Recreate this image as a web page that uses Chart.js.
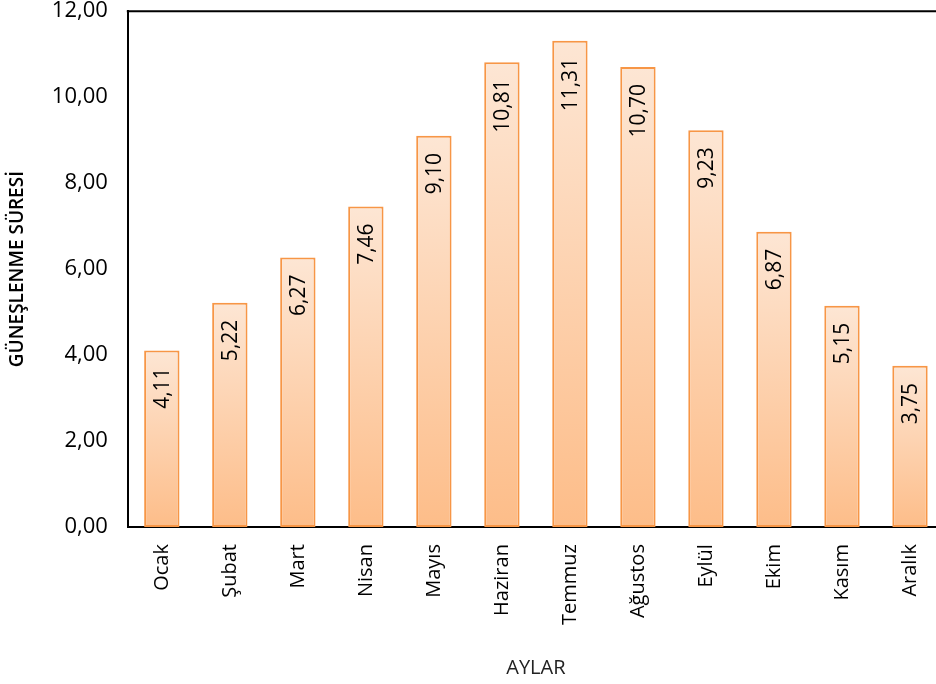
<!DOCTYPE html>
<html>
<head>
<meta charset="utf-8">
<script src="https://cdn.jsdelivr.net/npm/chart.js@4.4.1/dist/chart.umd.min.js"></script>
<style>
    html, body { margin: 0; padding: 0; overflow: hidden; background: #fff; }
    #wrap { position: absolute; left: 0; top: -22px; width: 960px; height: 706px; }
</style>
</head>
<body>
<div id="wrap"><canvas id="sunChart"></canvas></div>
<script>
// Aylık güneşlenme süreleri
const aylar = ['Ocak', 'Şubat', 'Mart', 'Nisan', 'Mayıs', 'Haziran', 'Temmuz', 'Ağustos', 'Eylül', 'Ekim', 'Kasım', 'Aralık'];
const sureler = [4.11, 5.22, 6.27, 7.46, 9.10, 10.81, 11.31, 10.70, 9.23, 6.87, 5.15, 3.75];

const fontAdi = "'Open Sans', 'Noto Sans', sans-serif";

function virgul(v) {
    return v.toFixed(2).replace('.', ',');
}

// Çubuklar için dikey gradyan
function gradyan(context) {
    const chart = context.chart;
    const area = chart.chartArea;
    const yScale = chart.scales.y;
    if (!area || !yScale || context.raw === undefined) return '#fcd2b0';
    const top = yScale.getPixelForValue(context.raw);
    if (!isFinite(top) || !isFinite(area.bottom)) return '#fcd2b0';
    const g = chart.ctx.createLinearGradient(0, top, 0, area.bottom);
    g.addColorStop(0, '#fde6d4');
    g.addColorStop(1, '#fdbd89');
    return g;
}

// Değer etiketleri (dikey, çubuğun üst kısmında)
const etiketPlugin = {
    id: 'etiketler',
    afterDatasetsDraw(chart) {
        const ctx = chart.ctx;
        const meta = chart.getDatasetMeta(0);
        ctx.save();
        ctx.font = '21px ' + fontAdi;
        ctx.fillStyle = '#000';
        ctx.textAlign = 'right';
        ctx.textBaseline = 'middle';
        meta.data.forEach(function(bar, i) {
            ctx.save();
            ctx.translate(bar.x + 1, bar.y + 17);
            ctx.rotate(-Math.PI / 2);
            ctx.fillText(virgul(sureler[i]), 0, 0);
            ctx.restore();
        });
        ctx.restore();
    }
};

// Grafik alanının üst çizgisi
const cercevePlugin = {
    id: 'cerceve',
    afterDraw(chart) {
        const a = chart.chartArea;
        const ctx = chart.ctx;
        ctx.save();
        ctx.strokeStyle = '#000';
        ctx.lineWidth = 2;
        ctx.beginPath();
        ctx.moveTo(a.left - 1, a.top);
        ctx.lineTo(a.right, a.top);
        ctx.stroke();
        ctx.restore();
    }
};

const ctx = document.getElementById('sunChart').getContext('2d');
window.myChart = new Chart(ctx, {
    type: 'bar',
    data: {
        labels: aylar,
        datasets: [{
            data: sureler,
            backgroundColor: gradyan,
            borderColor: '#f79646',
            borderWidth: 2,
            borderSkipped: false,
            barPercentage: 0.52,
            categoryPercentage: 1
        }]
    },
    options: {
        responsive: true,
        maintainAspectRatio: false,
        animation: false,
        layout: { padding: { top: -3, right: 16, left: 6, bottom: 4 } },
        plugins: {
            legend: { display: false },
            tooltip: { enabled: false }
        },
        scales: {
            x: {
                grid: { display: false, drawTicks: false },
                border: { color: '#000', width: 2 },
                ticks: {
                    color: '#000',
                    font: { family: fontAdi, size: 20 },
                    minRotation: 90,
                    maxRotation: 90,
                    padding: 17
                },
                title: {
                    display: true,
                    text: 'AYLAR',
                    color: '#222',
                    font: { family: fontAdi, size: 20 },
                    padding: { top: 14, bottom: 0 }
                }
            },
            y: {
                min: 0,
                max: 12,
                grid: { display: false, drawTicks: false },
                border: { color: '#000', width: 2 },
                ticks: {
                    stepSize: 2,
                    color: '#000',
                    font: { family: fontAdi, size: 22 },
                    padding: 20,
                    callback: function(v) { return virgul(v); }
                },
                title: {
                    display: true,
                    text: 'GÜNEŞLENME SÜRESİ',
                    color: '#000',
                    font: { family: fontAdi, size: 19, weight: '600' },
                    padding: { top: 0, bottom: 3 }
                }
            }
        }
    },
    plugins: [etiketPlugin, cercevePlugin]
});
</script>
</body>
</html>
